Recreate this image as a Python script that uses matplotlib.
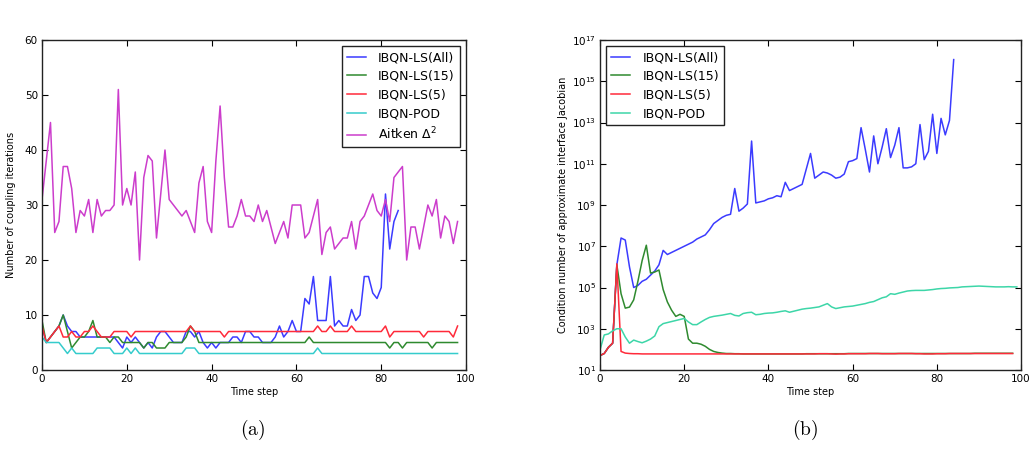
import matplotlib
matplotlib.use('Agg')
import matplotlib.pyplot as plt
import numpy as np
from matplotlib.ticker import NullLocator

# (a) number of coupling iterations per time step
aitken = [31, 38, 45, 25, 27, 37, 37, 33, 25, 29,
          28, 31, 25, 31, 28, 29, 29, 30, 51, 30,
          33, 30, 36, 20, 35, 39, 38, 24, 32, 40,
          31, 30, 29, 28, 29, 27, 25, 34, 37, 27,
          25, 38, 48, 35, 26, 26, 28, 31, 28, 28,
          27, 30, 27, 29, 26, 23, 25, 27, 24, 30,
          30, 30, 24, 25, 28, 31, 21, 25, 26, 22,
          23, 24, 24, 27, 22, 27, 28, 30, 32, 29,
          28, 31, 27, 35, 36, 37, 20, 26, 26, 22,
          26, 30, 28, 31, 24, 28, 27, 23, 27]

iter_all = [8, 5, 6, 7, 8, 10, 8, 7, 7, 6,
            6, 6, 6, 6, 6, 6, 6, 6, 5, 4,
            6, 5, 6, 5, 4, 5, 4, 6, 7, 7,
            6, 5, 5, 5, 7, 7, 6, 7, 5, 4,
            5, 4, 5, 5, 5, 6, 6, 5, 7, 7,
            6, 6, 5, 5, 5, 6, 8, 6, 7, 9,
            7, 7, 13, 12, 17, 9, 9, 9, 17, 8,
            9, 8, 8, 11, 9, 10, 17, 17, 14, 13,
            15, 32, 22, 27, 29]

iter_15 = [9, 5, 6, 7, 8, 10, 7, 4, 5, 6,
           6, 7, 9, 6, 6, 6, 5, 6, 6, 5,
           5, 5, 5, 5, 4, 5, 5, 4, 4, 4,
           5, 5, 5, 5, 6, 8, 7, 5, 5, 5,
           5, 5, 5, 5, 5, 5, 5, 5, 5, 5,
           5, 5, 5, 5, 5, 5, 5, 5, 5, 5,
           5, 5, 5, 6, 5, 5, 5, 5, 5, 5,
           5, 5, 5, 5, 5, 5, 5, 5, 5, 5,
           5, 5, 4, 5, 5, 4, 5, 5, 5, 5,
           5, 5, 4, 5, 5, 5, 5, 5, 5]

iter_5 = [8, 5, 6, 7, 8, 6, 6, 7, 6, 6,
          7, 7, 8, 7, 6, 6, 6, 7, 7, 7,
          7, 6, 7, 7, 7, 7, 7, 7, 7, 7,
          7, 7, 7, 7, 7, 8, 7, 7, 7, 7,
          7, 7, 7, 6, 7, 7, 7, 7, 7, 7,
          7, 7, 7, 7, 7, 7, 7, 7, 7, 7,
          7, 7, 7, 7, 7, 8, 7, 7, 8, 7,
          7, 7, 7, 8, 7, 7, 7, 7, 7, 7,
          7, 8, 6, 7, 7, 7, 7, 7, 7, 7,
          6, 7, 7, 7, 7, 7, 7, 6, 8]

iter_pod = [6, 5, 5, 5, 5, 4, 3, 4, 3, 3,
            3, 3, 3, 4, 4, 4, 4, 3, 3, 3,
            4, 3, 4, 3, 3, 3, 3, 3, 3, 3,
            3, 3, 3, 3, 4, 4, 4, 3, 3, 3,
            3, 3, 3, 3, 3, 3, 3, 3, 3, 3,
            3, 3, 3, 3, 3, 3, 3, 3, 3, 3,
            3, 3, 3, 3, 3, 4, 3, 3, 3, 3,
            3, 3, 3, 3, 3, 3, 3, 3, 3, 3,
            3, 3, 3, 3, 3, 3, 3, 3, 3, 3,
            3, 3, 3, 3, 3, 3, 3, 3, 3]

# (b) condition number, stored as log10
cond_all = [1.7, 1.8, 2.1, 2.3, 6.1, 7.4, 7.3, 6.0, 5.0, 5.1,
            5.3, 5.4, 5.6, 5.8, 6.1, 6.8, 6.6, 6.7, 6.8, 6.9,
            7.0, 7.1, 7.2, 7.35, 7.45, 7.55, 7.8, 8.1, 8.25, 8.4,
            8.5, 8.55, 9.8, 8.7, 8.85, 9.05, 12.1, 9.1, 9.15, 9.2,
            9.3, 9.35, 9.45, 9.4, 10.1, 9.7, 9.8, 9.9, 10.0, 10.75,
            11.5, 10.3, 10.45, 10.6, 10.55, 10.45, 10.3, 10.35, 10.5, 11.1,
            11.15, 11.25, 12.75, 11.7, 10.6, 12.35, 11.0, 11.8, 12.7, 11.3,
            11.9, 12.75, 10.8, 10.8, 10.85, 11.0, 12.9, 11.2, 11.6, 13.4,
            11.5, 13.2, 12.4, 13.1, 16.05]

cond_15 = [1.7, 1.8, 2.1, 2.3, 6.1, 4.7, 4.0, 4.05, 4.4, 5.3,
           6.3, 7.05, 5.7, 5.75, 5.85, 4.9, 4.3, 3.9, 3.6, 3.7,
           3.6, 2.5, 2.3, 2.3, 2.25, 2.15, 2.0, 1.9, 1.85, 1.82,
           1.8, 1.8, 1.79, 1.79, 1.78, 1.78, 1.78, 1.78, 1.78, 1.78,
           1.78, 1.78, 1.78, 1.78, 1.78, 1.78, 1.78, 1.78, 1.78, 1.79,
           1.79, 1.79, 1.79, 1.79, 1.79, 1.79, 1.79, 1.79, 1.79, 1.8,
           1.8, 1.8, 1.8, 1.8, 1.8, 1.8, 1.8, 1.8, 1.8, 1.8,
           1.8, 1.8, 1.8, 1.8, 1.8, 1.8, 1.8, 1.8, 1.8, 1.8,
           1.8, 1.8, 1.8, 1.8, 1.8, 1.8, 1.8, 1.8, 1.8, 1.81,
           1.81, 1.81, 1.81, 1.81, 1.81, 1.81, 1.81, 1.81, 1.81]

cond_5 = [1.7, 1.8, 2.1, 2.3, 6.15, 1.9, 1.82, 1.8, 1.79, 1.79,
          1.78, 1.78, 1.78, 1.78, 1.78, 1.78, 1.78, 1.78, 1.78, 1.78,
          1.78, 1.78, 1.78, 1.78, 1.78, 1.78, 1.78, 1.78, 1.78, 1.78,
          1.78, 1.78, 1.78, 1.78, 1.78, 1.78, 1.78, 1.78, 1.78, 1.78,
          1.78, 1.78, 1.78, 1.78, 1.78, 1.78, 1.78, 1.78, 1.78, 1.78,
          1.78, 1.78, 1.79, 1.79, 1.79, 1.78, 1.77, 1.78, 1.78, 1.79,
          1.79, 1.79, 1.79, 1.79, 1.8, 1.8, 1.8, 1.79, 1.79, 1.79,
          1.79, 1.8, 1.8, 1.8, 1.8, 1.79, 1.79, 1.78, 1.78, 1.78,
          1.79, 1.79, 1.79, 1.8, 1.8, 1.8, 1.8, 1.8, 1.8, 1.8,
          1.8, 1.8, 1.8, 1.8, 1.8, 1.8, 1.8, 1.8, 1.8]

cond_pod = [1.97, 2.7, 2.75, 2.9, 3.0, 3.0, 2.6, 2.3, 2.45, 2.38,
            2.32, 2.4, 2.5, 2.65, 3.1, 3.25, 3.3, 3.35, 3.4, 3.45,
            3.5, 3.33, 3.2, 3.2, 3.33, 3.45, 3.55, 3.6, 3.63, 3.66,
            3.7, 3.74, 3.65, 3.62, 3.74, 3.78, 3.8, 3.68, 3.7, 3.74,
            3.76, 3.77, 3.8, 3.84, 3.87, 3.8, 3.85, 3.9, 3.95, 3.98,
            4.0, 4.03, 4.06, 4.14, 4.22, 4.06, 3.98, 4.02, 4.06, 4.08,
            4.1, 4.14, 4.18, 4.22, 4.28, 4.32, 4.41, 4.5, 4.55, 4.7,
            4.67, 4.73, 4.78, 4.83, 4.85, 4.86, 4.86, 4.86, 4.88, 4.9,
            4.93, 4.95, 4.96, 4.98, 4.99, 5.0, 5.03, 5.04, 5.05, 5.06,
            5.07, 5.06, 5.05, 5.04, 5.03, 5.03, 5.03, 5.04, 5.03, 5.03]

labels = ['IBQN-LS(All)', 'IBQN-LS(15)', 'IBQN-LS(5)', 'IBQN-POD']
colors = ['#3b3bff', '#2f8a2f', '#ff2a3a', '#35cccc']
log_ticks = [1, 3, 5, 7, 9, 11, 13, 15, 17]

fig = plt.figure(figsize=(10.32, 4.53), dpi=100)
ax1 = fig.add_axes([0.0407, 0.1832, 0.4109, 0.7285])
ax2 = fig.add_axes([0.5814, 0.1832, 0.4080, 0.7285])

# panel (a)
series_a = [iter_all, iter_15, iter_5, iter_pod]
for vals, lab, col in zip(series_a, labels, colors):
    ax1.plot(np.arange(len(vals)), vals, color=col, lw=1.1, label=lab)
ax1.plot(np.arange(len(aitken)), aitken, color='#cc3dcc', lw=1.1,
         label=r'Aitken $\Delta^2$')
ax1.set_xlim(0, 100)
ax1.set_ylim(0, 60)
ax1.set_xticks([0, 20, 40, 60, 80, 100])
ax1.set_yticks([0, 10, 20, 30, 40, 50, 60])
ax1.set_xlabel('Time step', fontsize=7, labelpad=2)
ax1.set_ylabel('Number of coupling iterations', fontsize=7, labelpad=6)

# panel (b)
series_b = [cond_all, cond_15, cond_5, cond_pod]
colors_b = ['#3b3bff', '#2f8a2f', '#ff2a3a', '#3dd6a8']
for vals, lab, col in zip(series_b, labels, colors_b):
    ax2.plot(np.arange(len(vals)), 10.0 ** np.array(vals), color=col,
             lw=1.1, label=lab)
ax2.set_yscale('log')
ax2.set_xlim(0, 100)
ax2.set_ylim(1e1, 1e17)
ax2.set_xticks([0, 20, 40, 60, 80, 100])
ax2.set_yticks([10.0 ** k for k in log_ticks])
ax2.yaxis.set_minor_locator(NullLocator())
ax2.set_xlabel('Time step', fontsize=7, labelpad=2)
ax2.set_ylabel('Condition number of approximate interface Jacobian',
               fontsize=7, labelpad=3)

for ax, loc in [(ax1, 'upper right'), (ax2, 'upper left')]:
    ax.tick_params(direction='in', top=True, right=True, labelsize=7.5,
                   length=4, width=0.8, pad=3)
    for s in ax.spines.values():
        s.set_linewidth(1.0)
        s.set_color('#222222')
    leg = ax.legend(loc=loc, fontsize=9, fancybox=False, framealpha=1,
                    edgecolor='#222222', handlelength=1.5, handletextpad=1.0,
                    borderaxespad=0.5, labelspacing=0.45)
    leg.get_frame().set_linewidth(1.0)

fig.text(0.245, 0.04, r'$\mathrm{(a)}$', fontsize=14, ha='center',
         math_fontfamily='cm')
fig.text(0.780, 0.04, r'$\mathrm{(b)}$', fontsize=14, ha='center',
         math_fontfamily='cm')

fig.savefig('out.png', dpi=100, facecolor='white')
